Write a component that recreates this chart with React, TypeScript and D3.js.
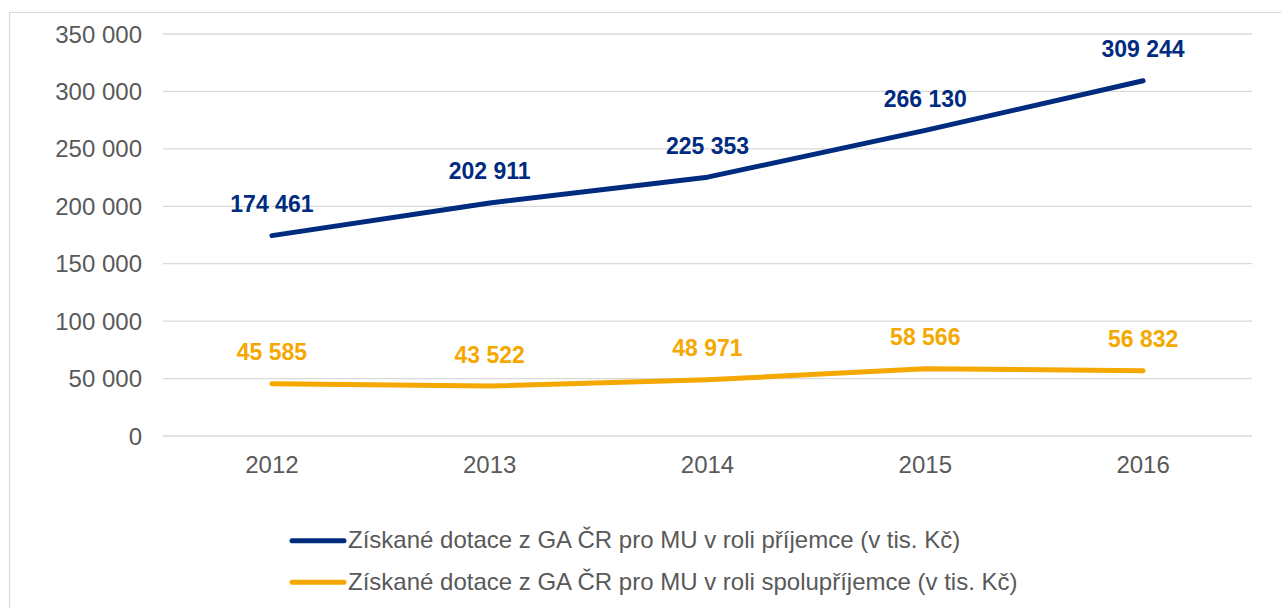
import React from "react";
import * as d3 from "d3";

const years = ["2012", "2013", "2014", "2015", "2016"];
const prijemce = [174461, 202911, 225353, 266130, 309244];
const spoluprijemce = [45585, 43522, 48971, 58566, 56832];
const yTicks = [0, 50000, 100000, 150000, 200000, 250000, 300000, 350000];
const seriesNames = [
  "Získané dotace z GA ČR pro MU v roli příjemce (v tis. Kč)",
  "Získané dotace z GA ČR pro MU v roli spolupříjemce (v tis. Kč)",
];
const colors = ["#002B7F", "#F5A800"];

const W = 1281;
const H = 608;

const fmt = (v: number) => {
  const s = String(v);
  return s.replace(/\B(?=(\d{3})+(?!\d))/g, " ");
};

export default function App() {
  const x = d3.scalePoint<string>().domain(years).range([163, 1252]).padding(0.5);
  const y = d3.scaleLinear().domain([0, 350000]).range([436, 34]);
  const line = d3
    .line<number>()
    .x((_, i) => x(years[i]) as number)
    .y((d) => y(d));
  const series = [prijemce, spoluprijemce];
  const font = "Arial, 'Liberation Sans', sans-serif";

  return (
    <svg
      width={W}
      height={H}
      style={{ position: "absolute", left: 0, top: 0, background: "#fff" }}
      fontFamily={font}
    >
      <rect x={9.5} y={12.5} width={1400} height={800} fill="#fff" stroke="#d9d9d9" strokeWidth={1.2} />
      {yTicks.map((t) => (
        <g key={t}>
          <line x1={163} x2={1252} y1={y(t)} y2={y(t)} stroke="#d9d9d9" strokeWidth={1.3} />
          <text x={142} y={y(t)} dy={8.6} textAnchor="end" fontSize={24} fill="#595959">
            {fmt(t)}
          </text>
        </g>
      ))}
      {years.map((yr) => (
        <text key={yr} x={x(yr)} y={473} textAnchor="middle" fontSize={24} fill="#595959">
          {yr}
        </text>
      ))}
      {series.map((s, si) => (
        <g key={si}>
          <path d={line(s) as string} fill="none" stroke={colors[si]} strokeWidth={5} strokeLinecap="round" strokeLinejoin="round" />
          {s.map((v, i) => (
            <text
              key={i}
              x={x(years[i])}
              y={y(v) - 23.5}
              textAnchor="middle"
              fontSize={23}
              fontWeight="bold"
              fill={colors[si]}
            >
              {fmt(v)}
            </text>
          ))}
        </g>
      ))}
      {seriesNames.map((n, i) => (
        <g key={n}>
          <line x1={292} x2={344} y1={540.7 + i * 41.5} y2={540.7 + i * 41.5} stroke={colors[i]} strokeWidth={5} strokeLinecap="round" />
          <text x={348} y={548 + i * 41.5} fontSize={24} fill="#595959">
            {n}
          </text>
        </g>
      ))}
    </svg>
  );
}
